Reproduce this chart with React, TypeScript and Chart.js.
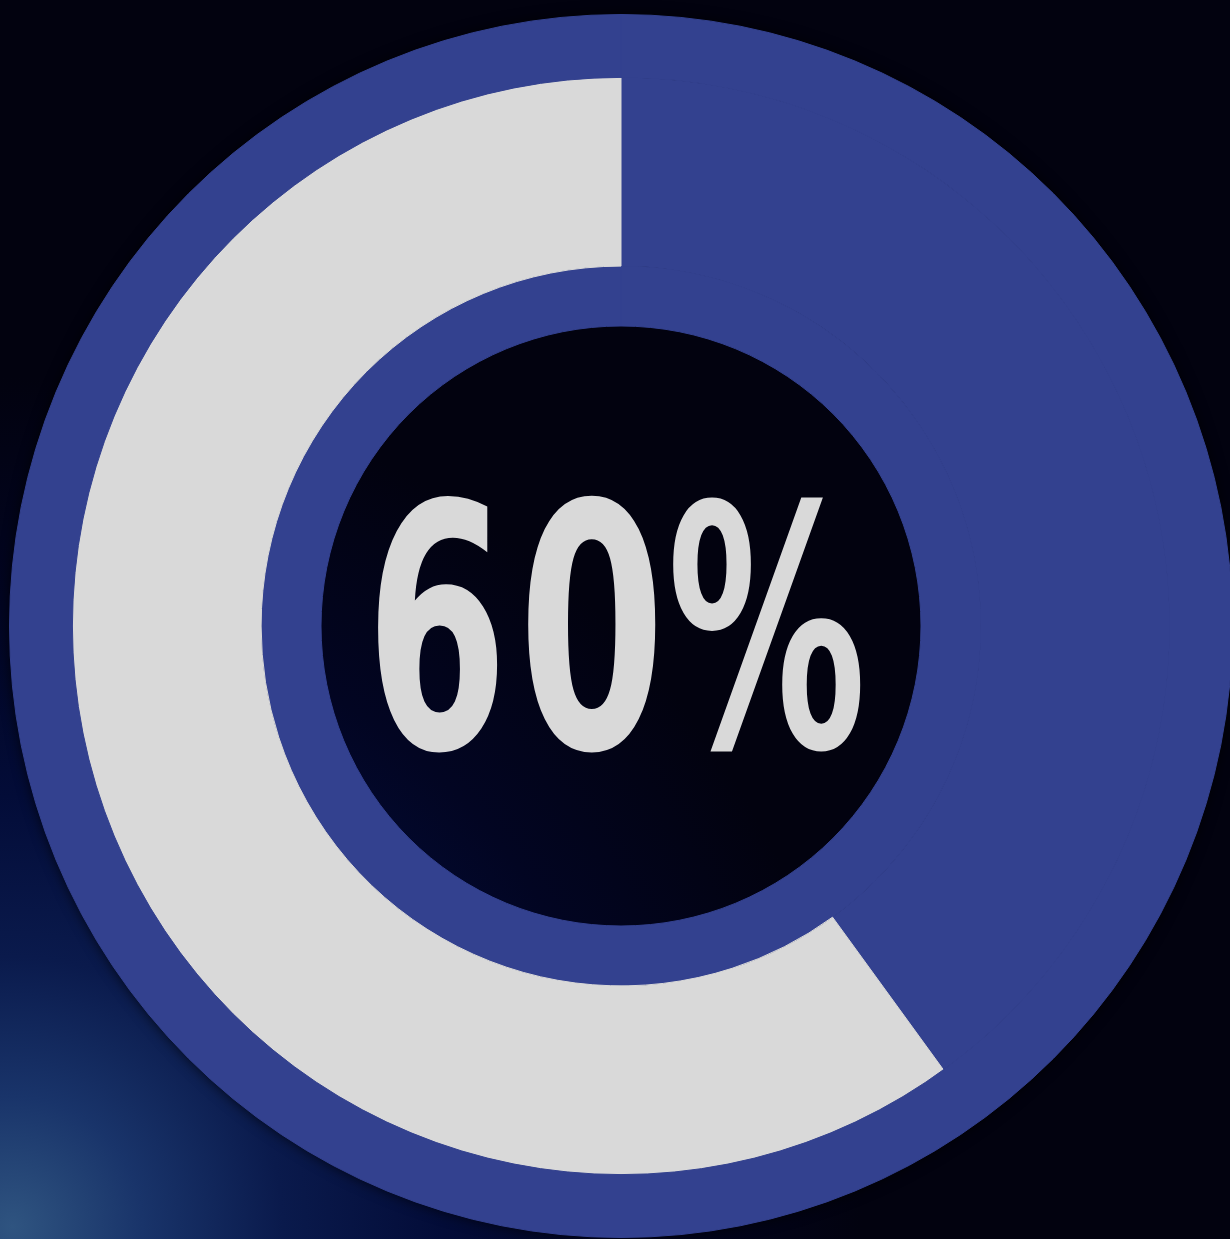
import React, { useEffect, useRef } from "react";
import { Chart, registerables } from "chart.js";

Chart.register(...registerables);

// ---- data ----
const progressValue = 60; // percent filled
const centerLabel = ["6", "0", "%"];
const ringLabels = ["remaining", "progress"];
const ringValues = [100 - progressValue, progressValue];
const frameValues = [100];

const BLUE = "#33418f";
const GRAY = "#d9d9d9";

// glyph boxes relative to chart centre (style/layout only)
const glyphBoxes = [
  [-246, -133, -121, 127],
  [-93, -133, 36, 127],
  [52, -131, 242, 126],
];

function fitGlyph(ctx: CanvasRenderingContext2D, ch: string, x0: number, y0: number, x1: number, y1: number) {
  ctx.font = 'bold 300px "DejaVu Sans"';
  ctx.textAlign = "left";
  ctx.textBaseline = "alphabetic";
  const m = ctx.measureText(ch);
  const w = m.actualBoundingBoxLeft + m.actualBoundingBoxRight;
  const h = m.actualBoundingBoxAscent + m.actualBoundingBoxDescent;
  const sx = (x1 - x0) / w;
  const sy = (y1 - y0) / h;
  ctx.save();
  ctx.translate(x0, y0);
  ctx.scale(sx, sy);
  ctx.fillText(ch, m.actualBoundingBoxLeft, m.actualBoundingBoxAscent);
  ctx.restore();
}

// soft drop shadow outside the outer ring only
const shadowPlugin = {
  id: "ringShadow",
  beforeDatasetsDraw(chart: any) {
    const arc = chart.getDatasetMeta(0).data[0];
    if (!arc) return;
    const ctx = chart.ctx;
    const r = arc.outerRadius;
    ctx.save();
    ctx.beginPath();
    ctx.rect(0, 0, chart.width, chart.height);
    ctx.arc(arc.x, arc.y, r - 1, 0, Math.PI * 2, true);
    ctx.clip("evenodd");
    ctx.shadowColor = "rgba(0,0,0,0.85)";
    ctx.shadowBlur = 14;
    ctx.fillStyle = BLUE;
    ctx.beginPath();
    ctx.arc(arc.x, arc.y, r - 1, 0, Math.PI * 2);
    ctx.fill();
    ctx.restore();
  },
};

const centerTextPlugin = {
  id: "centerText",
  afterDatasetsDraw(chart: any) {
    const meta = chart.getDatasetMeta(0);
    const arc = meta.data[0];
    if (!arc) return;
    const cx = arc.x;
    const cy = arc.y;
    const ctx = chart.ctx;
    ctx.save();
    ctx.fillStyle = GRAY;
    centerLabel.forEach((ch, i) => {
      const b = glyphBoxes[i];
      fitGlyph(ctx, ch, cx + b[0], cy + b[1], cx + b[2], cy + b[3]);
    });
    ctx.restore();
  },
};

export default function App() {
  const ref = useRef<HTMLCanvasElement | null>(null);

  useEffect(() => {
    if (!ref.current) return;
    const chart = new Chart(ref.current, {
      type: "doughnut",
      data: {
        labels: ringLabels,
        datasets: [
          {
            data: frameValues,
            backgroundColor: [BLUE],
            borderColor: [BLUE],
            borderWidth: 1,
            weight: 63,
          },
          {
            data: ringValues,
            backgroundColor: [BLUE, GRAY],
            borderColor: [BLUE, GRAY],
            borderWidth: 1,
            weight: 189,
          },
          {
            data: frameValues,
            backgroundColor: [BLUE],
            borderColor: [BLUE],
            borderWidth: 1,
            weight: 60,
          },
        ],
      },
      options: {
        responsive: false,
        animation: false,
        events: [],
        cutout: 300,
        rotation: 0,
        layout: { padding: { left: 9, top: 14, right: 7, bottom: 1 } },
        plugins: {
          legend: { display: false },
          tooltip: { enabled: false },
        },
        elements: { arc: { hoverOffset: 0, offset: 0 } },
      } as any,
      plugins: [shadowPlugin, centerTextPlugin],
    });
    return () => chart.destroy();
  }, []);

  return (
    <div
      style={{
        position: "fixed",
        left: 0,
        top: 0,
        width: 1230,
        height: 1239,
        overflow: "hidden",
        background:
          "radial-gradient(circle at 1% 99%, #2f5480 0px, #19346a 130px, #0a1a4c 270px, #030c38 430px, #020522 620px, #02020f 850px)",
      }}
    >
      <canvas ref={ref} width={1240} height={1239} style={{ display: "block", width: 1240, height: 1239 }} />
    </div>
  );
}
